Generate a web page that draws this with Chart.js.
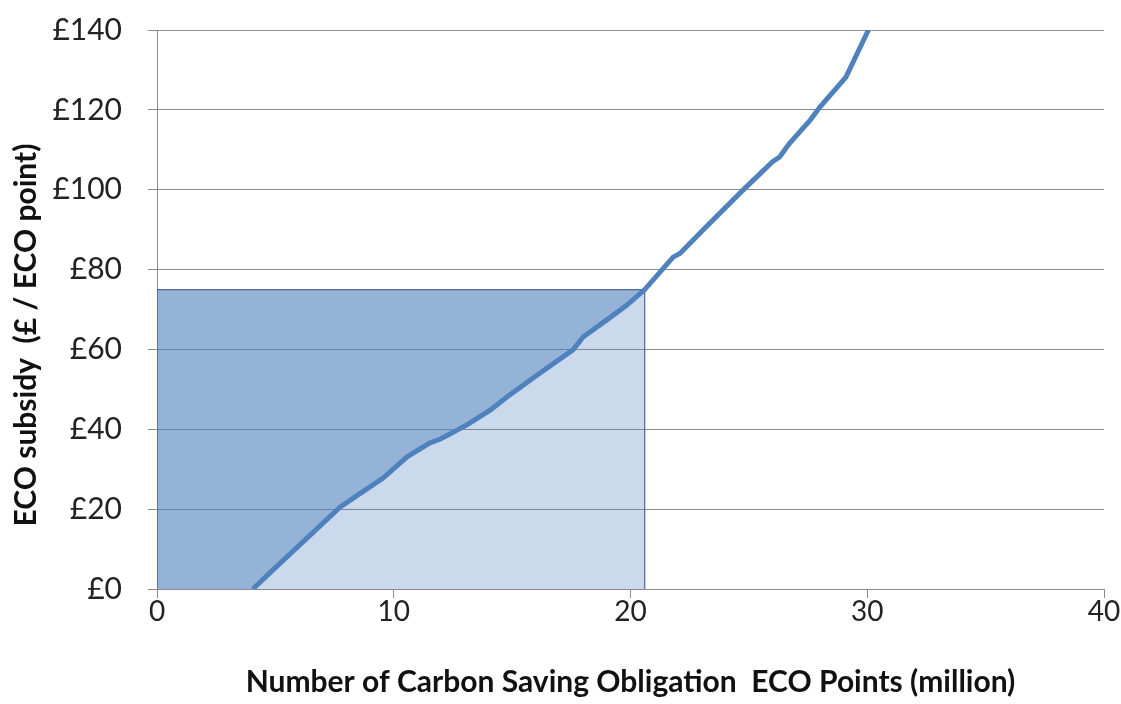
<!DOCTYPE html>
<html>
<head>
<meta charset="utf-8">
<script src="https://cdn.jsdelivr.net/npm/chart.js@4"></script>
<style>
	html, body { margin: 0; padding: 0; background: #fff; }
</style>
</head>
<body>
<canvas id="graphic" width="1121" height="704"></canvas>
<script>
// supply curve (million points, £ per point)
const curveX = [4.05, 4.9, 6.2, 7.73, 8.6, 9.55, 10.56, 11.53, 11.95, 13.09, 14.07, 14.78, 16.18, 17.57, 18.0, 19.0, 19.85, 20.6, 21.8, 22.1, 23.2, 24.75, 26.0, 26.3, 26.7, 27.6, 28.0, 29.0, 29.1, 30.05];
const curveY = [0, 4.8, 12, 20.5, 24, 27.8, 33.1, 36.6, 37.5, 41.1, 44.8, 48.1, 54.1, 59.9, 63.1, 67.4, 71.1, 75, 83.1, 84.1, 90.7, 99.9, 107, 108.2, 111.5, 117.5, 120.7, 127.5, 128.2, 140];

// target box
const targetPoints = 20.6;
const targetPrice = 75;

const yTicks = [0, 20, 40, 60, 80, 100, 120, 140];
const xTicks = [0, 10, 20, 30, 40];

const curve = curveX.map((x, i) => ({ x: x, y: curveY[i] }));
const below = [{ x: 0, y: 0 }].concat(curve.filter(p => p.x <= targetPoints));
const boxTop = [{ x: 0, y: targetPrice }, { x: targetPoints, y: targetPrice }];
const boxEdge = [{ x: 0, y: 0 }, { x: 0, y: targetPrice }, { x: targetPoints, y: targetPrice }, { x: targetPoints, y: 0 }];

const font = 'Lato, "Open Sans", sans-serif';

new Chart(document.getElementById('graphic'), {
	type: 'line',
	data: {
		datasets: [
			{
				data: curve,
				borderColor: '#4F81BD',
				borderWidth: 5,
				pointRadius: 0,
				fill: false,
				tension: 0
			},
			{
				data: boxEdge,
				borderColor: '#4A6A96',
				borderWidth: 1.2,
				pointRadius: 0,
				fill: false
			},
			{
				data: below,
				borderWidth: 0,
				borderColor: 'rgba(0,0,0,0)',
				backgroundColor: 'rgba(79,129,189,0.3)',
				pointRadius: 0,
				fill: 'origin'
			},
			{
				data: boxTop,
				borderWidth: 0,
				borderColor: 'rgba(0,0,0,0)',
				backgroundColor: 'rgba(79,129,189,0.6)',
				pointRadius: 0,
				fill: 2
			}
		]
	},
	options: {
		responsive: false,
		animation: false,
		layout: { padding: { top: 30, right: 17, left: 0, bottom: 0 } },
		plugins: { legend: { display: false }, tooltip: { enabled: false } },
		scales: {
			x: {
				type: 'linear',
				min: 0,
				max: 40,
				afterBuildTicks: s => { s.ticks = xTicks.map(v => ({ value: v })); },
				afterFit: s => { s.height = 115; },
				grid: { drawOnChartArea: false, tickLength: 9, color: '#8c8c8c' },
				border: { color: '#8c8c8c', width: 1 },
				ticks: { color: '#222', font: { family: font, size: 28 }, padding: -3 },
				title: {
					display: true,
					text: 'Number of Carbon Saving Obligation  ECO Points (million)',
					color: '#111',
					font: { family: font, size: 30, weight: 'bold' },
					padding: { top: 18 }
				}
			},
			y: {
				min: 0,
				max: 140,
				afterBuildTicks: s => { s.ticks = yTicks.map(v => ({ value: v })); },
				afterFit: s => { s.width = 157; s.paddingTop = 0; s.paddingBottom = 0; },
				grid: { color: '#8c8c8c', tickLength: 9, lineWidth: 1 },
				border: { color: '#8c8c8c', width: 1 },
				ticks: { color: '#222', font: { family: font, size: 30 }, padding: 26, callback: v => '£' + v },
				title: {
					display: true,
					text: 'ECO subsidy  (£ / ECO point)\u00a0\u00a0\u00a0\u00a0\u00a0\u00a0\u00a0',
					color: '#111',
					font: { family: font, size: 30, weight: 'bold' },
					padding: { top: 8, bottom: 8 }
				}
			}
		}
	}
});
</script>
</body>
</html>
